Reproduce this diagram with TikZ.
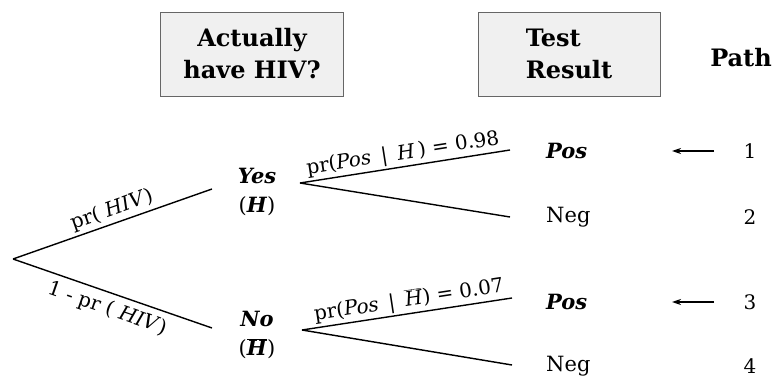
\documentclass[tikz,border=0pt]{standalone}
\usepackage{fontspec}
\setmainfont{DejaVu Serif}
\usetikzlibrary{arrows.meta}
\tikzset{
  hdrbox/.style={draw=black!60, fill=black!6, line width=0.8pt, minimum width=183pt, minimum height=84pt, inner sep=0pt, font=\bfseries\fontsize{24}{32}\selectfont},
  hdr/.style={font=\bfseries\fontsize{24}{32}\selectfont},
  lbl/.style={font=\fontsize{21}{29}\selectfont, inner sep=0pt},
  elbl/.style={font=\fontsize{20}{24}\selectfont, inner sep=2pt},
  branch/.style={line width=1.4pt},
  pathnum/.style={font=\fontsize{20}{24}\selectfont, inner sep=0pt},
  ptr/.style={line width=1.1pt, -{Stealth[length=9pt,width=6pt]}}
}
\begin{document}
\begin{tikzpicture}[x=1pt,y=-1pt]
\useasboundingbox (0,0) rectangle (776,379);
% headers
\node[hdrbox, align=center] (h1) at (252,54) {Actually\\have HIV?};
\node[hdrbox, align=left, minimum width=182pt] (h2) at (569,54) {Test\\Result};
\node[hdr] (h3) at (741,58) {Path};
% first level
\coordinate (root) at (13,259);
\coordinate (ye) at (212,189);
\coordinate (ne) at (212,328);
\node[lbl, align=center] (yes) at (257,192) {\textbf{\textit{Yes}}\\(\textbf{\textit{H}})};
\node[lbl, align=center] (no) at (257,335) {\textbf{\textit{No}}\\($\overline{\mbox{\textbf{\textit{H}}}}$)};
\draw[branch] (root) -- (ye) node[midway, sloped, above, elbl, yshift=1pt, xshift=4pt] {pr( \textit{HIV})};
\draw[branch] (root) -- (ne) node[midway, sloped, below, elbl, yshift=-4pt] {1 - pr ( \textit{HIV})};
% second level
\coordinate (ys) at (300,183);
\coordinate (y1) at (510,150);
\coordinate (y2) at (510,217);
\coordinate (ns) at (302,330);
\coordinate (n1) at (512,298);
\coordinate (n2) at (512,365);
\draw[branch] (ys) -- (y1) node[midway, sloped, above, elbl] {pr(\textit{Pos}\enspace|\enspace\textit{H}\,) = 0.98};
\draw[branch] (ys) -- (y2);
\draw[branch] (ns) -- (n1) node[midway, sloped, above, elbl, xshift=4pt] {pr(\textit{Pos}\enspace|\enspace$\overline{\mbox{\textit{H}}}$) = 0.07};
\draw[branch] (ns) -- (n2);
% outcomes
\node[lbl, anchor=west] (p1) at (546,151) {\textbf{\textit{Pos}}};
\node[lbl, anchor=west] (g2) at (546,217) {Neg};
\node[lbl, anchor=west] (p3) at (546,302) {\textbf{\textit{Pos}}};
\node[lbl, anchor=west] (g4) at (546,366) {Neg};
% path numbers
\node[pathnum] (n1p) at (750,151) {1};
\node[pathnum] (n2p) at (750,217) {2};
\node[pathnum] (n3p) at (750,302) {3};
\node[pathnum] (n4p) at (750,366) {4};
\coordinate (a1s) at (714,151);
\coordinate (a1e) at (672,151);
\coordinate (a3s) at (714,302);
\coordinate (a3e) at (672,302);
\draw[ptr] (a1s) -- (a1e);
\draw[ptr] (a3s) -- (a3e);
\end{tikzpicture}
\end{document}
